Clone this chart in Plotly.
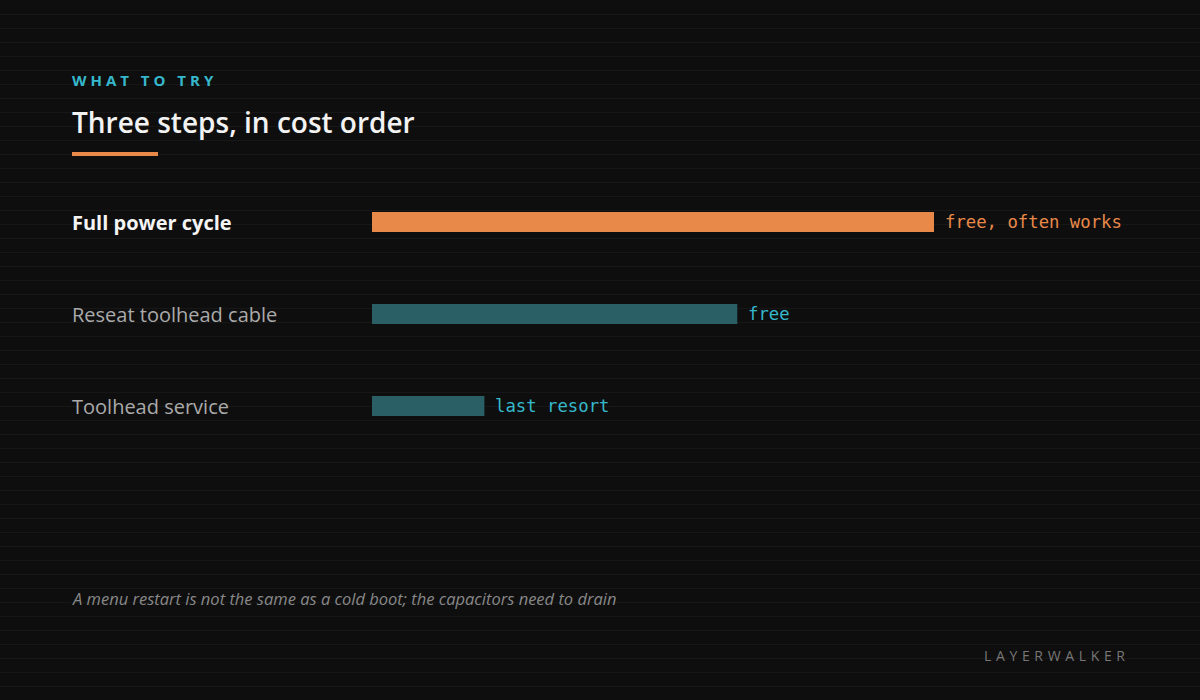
import plotly.graph_objects as go

W, H = 1200, 700

categories = ["Full power cycle", "Reseat toolhead cable", "Toolhead service"]
values = [100, 65, 20]
value_labels = ["free, often works", "free", "last resort"]
highlight = [True, False, False]

eyebrow = "WHAT TO TRY"
title = "Three steps, in cost order"
footnote = "A menu restart is not the same as a cold boot; the capacitors need to drain"
brand = "LAYERWALKER"

BG = "#0e0e0e"
ORANGE = "#e8894a"
TEAL = "#2a5f66"
CYAN = "#36b8cc"
SANS = "Open Sans, Noto Sans, sans-serif"
MONO = "DejaVu Sans Mono, Liberation Mono, monospace"


def px(x):
    return x / W


def py(y):
    return 1 - y / H


def spaced(s, sep):
    return sep.join(list(s))


bar_colors = [ORANGE if h else TEAL for h in highlight]

fig = go.Figure(
    go.Bar(
        x=values,
        y=categories,
        orientation="h",
        marker=dict(color=bar_colors, line=dict(width=0)),
        hoverinfo="skip",
    )
)

shapes = []
# faint horizontal background lines
for r in range(14, H, 14):
    shapes.append(dict(type="line", xref="paper", yref="paper", x0=0, x1=1,
                       y0=py(r + 0.5), y1=py(r + 0.5),
                       line=dict(color="#171717", width=1), layer="below"))
# orange underline under title
shapes.append(dict(type="rect", xref="paper", yref="paper", x0=px(72), x1=px(158),
                   y0=py(156), y1=py(152), fillcolor=ORANGE, line=dict(width=0)))

annotations = []
annotations.append(dict(text=spaced(eyebrow, "\u2009\u200a"), x=px(72), y=py(80), xref="paper", yref="paper",
                        xanchor="left", yanchor="middle", showarrow=False, xshift=-2,
                        font=dict(family=SANS, size=15, color=CYAN, weight=700)))
annotations.append(dict(text=title, x=px(71), y=py(122), xref="paper", yref="paper",
                        xanchor="left", yanchor="middle", showarrow=False, xshift=-1,
                        font=dict(family=SANS, size=28, color="#f2f2f2", weight=600)))
for cat, val, lab, hl in zip(categories, values, value_labels, highlight):
    annotations.append(dict(text=cat, x=px(72), y=cat, xref="paper", yref="y",
                            xanchor="left", yanchor="middle", showarrow=False, xshift=-2,
                            font=dict(family=SANS, size=20,
                                      color="#f4f4f4" if hl else "#aaaaaa",
                                      weight=700 if hl else 400)))
    annotations.append(dict(text=lab, x=val, y=cat, xref="x", yref="y",
                            xanchor="left", yanchor="middle", showarrow=False, xshift=9,
                            font=dict(family=MONO, size=17.3,
                                      color=ORANGE if hl else CYAN)))
annotations.append(dict(text=f"<i>{footnote}</i>", x=px(72), y=py(598), xref="paper", yref="paper",
                        xanchor="left", yanchor="middle", showarrow=False, xshift=-2,
                        font=dict(family=SANS, size=16.5, color="#888888")))
annotations.append(dict(text=spaced(brand, "\u2009\u2009"), x=px(1127), y=py(655), xref="paper", yref="paper",
                        xanchor="right", yanchor="middle", showarrow=False,
                        font=dict(family=SANS, size=14, color="#777777")))

fig.update_layout(
    width=W, height=H,
    margin=dict(l=0, r=0, t=0, b=0),
    paper_bgcolor=BG, plot_bgcolor="rgba(0,0,0,0)",
    showlegend=False,
    bargap=1 - 20 / 92,
    xaxis=dict(domain=[px(372), px(934)], range=[0, 100], visible=False, fixedrange=True),
    yaxis=dict(domain=[py(452), py(176)], range=[2.5, -0.5], visible=False, fixedrange=True,
               categoryorder="array", categoryarray=categories),
    shapes=shapes,
    annotations=annotations,
)

fig.write_html("out.html", config=dict(displayModeBar=False),
               post_script="document.body.style.margin='0';document.body.style.background='#0e0e0e';")
